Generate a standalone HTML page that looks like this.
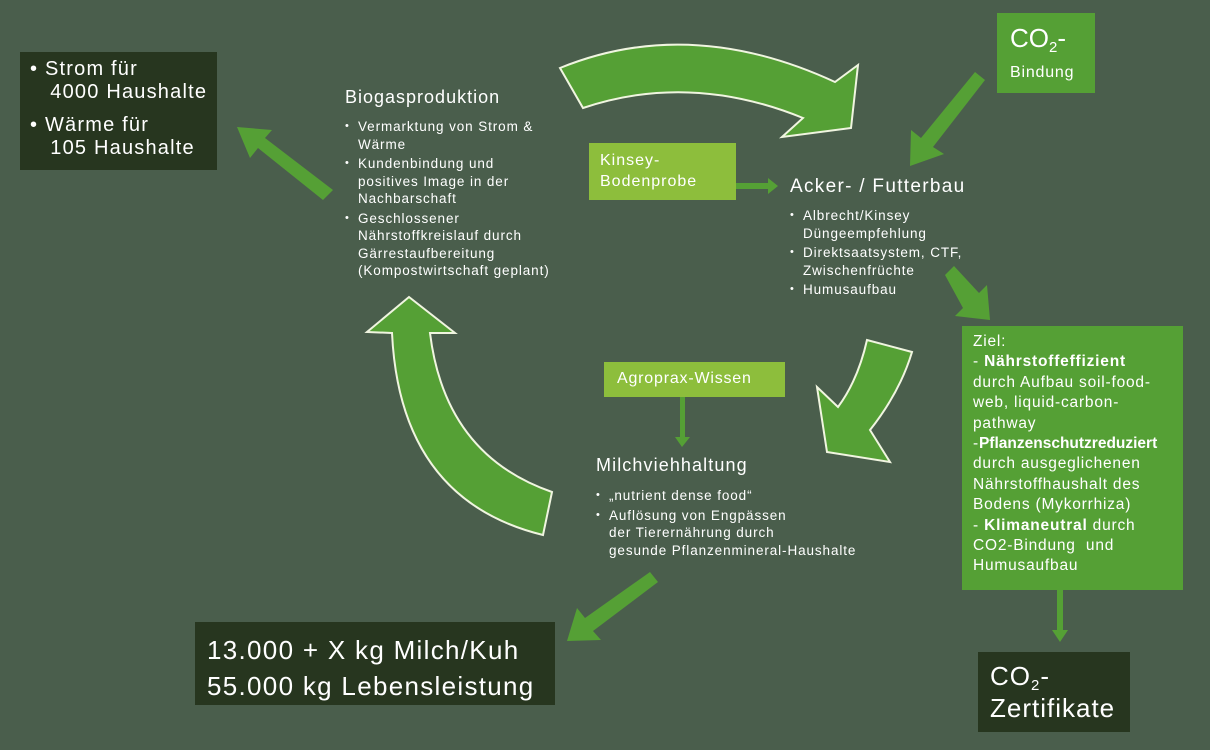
<!DOCTYPE html>
<html><head><meta charset="utf-8"><style>
body{margin:0;width:1210px;height:750px;background:#4a5e4c;overflow:hidden;position:relative;font-family:"Liberation Sans","DejaVu Sans",sans-serif;color:#fff}
.t{position:absolute;white-space:nowrap}
.box{position:absolute}
.b{font-size:13.5px;line-height:17.5px;letter-spacing:0.9px}
.b div{position:relative;padding-left:13px;margin-bottom:2px}
.b div:before{content:"•";position:absolute;left:0;font-size:11px}
sub{font-size:15px;line-height:0;vertical-align:-5px}
</style></head><body>
<svg width="1210" height="750" style="position:absolute;left:0;top:0">
<g fill="#55a035" stroke="#f0f5e0" stroke-width="2" stroke-linejoin="miter">
<path d="M560,68 Q690,15 835,82 L858,65 L851,128 L782,137 L803,118 Q690,72 583,108 Z"/>
<path d="M867,340 Q858,380 838,407 L817,387 L827,452 L890,462 L870,430 Q900,392 912,352 Z"/>
<path d="M392,333 L367,332 L409,297 L455,333 L430,333 Q445,455 552,492 L543,535 Q400,500 392,333 Z"/>
</g>
<g fill="#55a035">
<polygon points="985,80 975,72 921,138 911,130 910,166 944,154 933,147"/>
<polygon points="945,275 954,266 979,293 987,285 990,320 955,316 963,308"/>
<polygon points="333,190 323,200 258,148 250,158 237,127 272,130 265,138"/>
<polygon points="650,572 658,582 593,631 601,640 567,641 577,608 585,618"/>
<polygon points="1057,590 1063,590 1063,630 1068,630 1060,642 1052,630 1057,630"/>
<polygon points="680,397 685,397 685,437 690,437 682,447 675,437 680,437"/>
<polygon points="736,183 768,183 768,178 778,186 768,194 768,189 736,189"/>
</g>
</svg>

<div class="box" style="left:20px;top:52px;width:197px;height:118px;background:#27361f"></div>
<div class="t" style="left:30px;top:58px;font-size:20px;line-height:23px;letter-spacing:1.2px">• Strom für<br>&nbsp;&nbsp;&nbsp;4000 Haushalte</div>
<div class="t" style="left:30px;top:114px;font-size:20px;line-height:23px;letter-spacing:1.2px">• Wärme für<br>&nbsp;&nbsp;&nbsp;105 Haushalte</div>

<div class="t" style="left:345px;top:87px;font-size:18px;letter-spacing:1px">Biogasproduktion</div>
<div class="t b" style="left:345px;top:118px">
<div>Vermarktung von Strom &amp;<br>Wärme</div>
<div>Kundenbindung und<br>positives Image in der<br>Nachbarschaft</div>
<div>Geschlossener<br>Nährstoffkreislauf durch<br>Gärrestaufbereitung<br>(Kompostwirtschaft geplant)</div>
</div>

<div class="box" style="left:997px;top:13px;width:98px;height:80px;background:#55a035"></div>
<div class="t" style="left:1010px;top:22px;font-size:26px;line-height:32px">CO<sub>2</sub>-</div>
<div class="t" style="left:1010px;top:64px;font-size:16px;letter-spacing:0.8px">Bindung</div>

<div class="box" style="left:589px;top:143px;width:147px;height:57px;background:#8dbe3c"></div>
<div class="t" style="left:600px;top:150px;font-size:16px;line-height:21px;letter-spacing:1px">Kinsey-<br>Bodenprobe</div>

<div class="t" style="left:790px;top:176px;font-size:19px;letter-spacing:1.3px">Acker- / Futterbau</div>
<div class="t b" style="left:790px;top:207px">
<div>Albrecht/Kinsey<br>Düngeempfehlung</div>
<div>Direktsaatsystem, CTF,<br>Zwischenfrüchte</div>
<div>Humusaufbau</div>
</div>

<div class="box" style="left:962px;top:326px;width:221px;height:264px;background:#55a035"></div>
<div class="t" style="left:973px;top:332px;font-size:15.5px;line-height:20.4px;letter-spacing:0.8px">Ziel:<br>- <b>Nährstoffeffizient</b><br>durch Aufbau soil-food-<br>web, liquid-carbon-<br>pathway<br>-<b style="letter-spacing:0">Pflanzenschutzreduziert</b><br>durch ausgeglichenen<br>Nährstoffhaushalt des<br>Bodens (Mykorrhiza)<br>- <b>Klimaneutral</b> durch<br>CO2-Bindung&nbsp; und<br>Humusaufbau</div>

<div class="box" style="left:604px;top:362px;width:181px;height:35px;background:#8dbe3c"></div>
<div class="t" style="left:617px;top:370px;font-size:16px;letter-spacing:0.8px">Agroprax-Wissen</div>

<div class="t" style="left:596px;top:455px;font-size:18px;letter-spacing:1.1px">Milchviehhaltung</div>
<div class="t b" style="left:596px;top:487px">
<div>„nutrient dense food“</div>
<div>Auflösung von Engpässen<br>der Tierernährung durch<br>gesunde Pflanzenmineral-Haushalte</div>
</div>

<div class="box" style="left:195px;top:622px;width:360px;height:83px;background:#27361f"></div>
<div class="t" style="left:207px;top:632px;font-size:26px;line-height:36px;letter-spacing:1.3px">13.000 + X kg Milch/Kuh<br>55.000 kg Lebensleistung</div>

<div class="box" style="left:978px;top:652px;width:152px;height:80px;background:#27361f"></div>
<div class="t" style="left:990px;top:660px;font-size:26px;line-height:32px;letter-spacing:1px">CO<sub>2</sub>-<br>Zertifikate</div>
</body></html>
